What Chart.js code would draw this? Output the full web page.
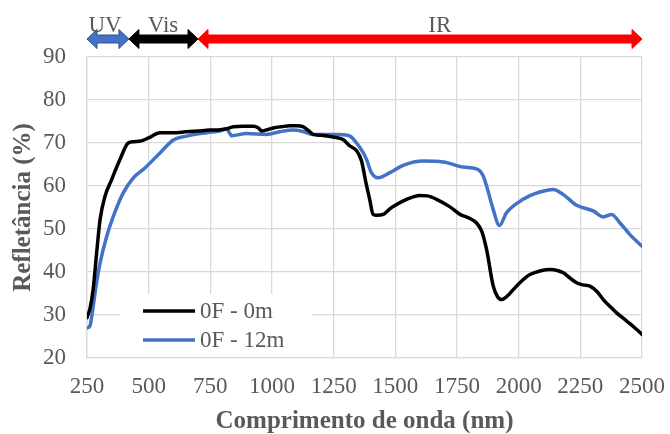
<!DOCTYPE html>
<html>
<head>
<meta charset="utf-8">
<script src="https://cdn.jsdelivr.net/npm/chart.js@4"></script>
<style>
  html, body { margin: 0; padding: 0; background: #ffffff; }
  #wrap { width: 670px; height: 434px; }
</style>
</head>
<body>
<div id="wrap"><canvas id="chart" width="670" height="434"></canvas></div>
<script>
// Reflectance spectra, wavelength in nm, reflectance in %
const seriesNames = ['0F - 0m', '0F - 12m'];

const wl0m = [250, 262, 275, 290, 303, 323, 350, 384, 417, 440, 470, 500, 546, 600, 650, 700,
  748, 790, 816, 843, 880, 924, 945, 958, 975, 1005, 1040, 1072, 1100, 1125, 1150, 1167, 1200,
  1248, 1288, 1316, 1343, 1363, 1380, 1396, 1410, 1425, 1451, 1480, 1505, 1550, 1599, 1630, 1667,
  1720, 1762, 1800, 1829, 1850, 1870, 1897, 1915, 1931, 1950, 1978, 2010, 2046, 2090, 2127, 2160,
  2181, 2210, 2235, 2260, 2289, 2320, 2343, 2370, 2397, 2425, 2451, 2475, 2500];
const refl0m = [29.4, 31.5, 36, 45, 52.2, 57.6, 61.5, 66.2, 70, 70.3, 70.5, 71.2, 72.4, 72.4, 72.6, 72.8,
  73.0, 73.1, 73.3, 73.8, 73.9, 73.9, 73.5, 72.8, 73.0, 73.5, 73.8, 74.0, 74.0, 73.8, 72.8, 72.0, 71.8,
  71.4, 70.8, 69.3, 68.2, 65.8, 61, 56.9, 53.4, 53.2, 53.4, 54.8, 55.7, 57, 57.8, 57.7, 56.9,
  55.2, 53.4, 52.5, 51.4, 49.5, 45.2, 36.7, 34.2, 33.6, 34.2, 35.9, 37.8, 39.4, 40.3, 40.6, 40.3,
  39.8, 38.5, 37.5, 37.0, 36.7, 35.3, 33.6, 32, 30.5, 29.2, 28, 26.8, 25.5];

const wl12m = [250, 262, 275, 290, 303, 330, 357, 397, 438, 485, 546, 600, 654, 735, 789, 816, 826,
  836, 897, 978, 1030, 1086, 1130, 1167, 1220, 1275, 1316, 1343, 1370, 1383, 1403, 1430, 1478, 1532,
  1613, 1694, 1775, 1836, 1855, 1870, 1897, 1922, 1951, 2018, 2086, 2140, 2181, 2235, 2302, 2343,
  2377, 2411, 2451, 2500];
const refl12m = [27.0, 27.5, 32, 38, 42.1, 48.3, 53, 58.4, 61.9, 64.2, 67.7, 70.7, 71.6, 72.4, 72.8, 73.3, 72.5,
  71.7, 72.2, 72.0, 72.6, 73.0, 72.6, 72.0, 72.0, 72.0, 71.6, 70.0, 67.7, 66.2, 63.1, 61.9, 63.1, 64.8,
  65.8, 65.6, 64.4, 63.8, 62.5, 60, 54.5, 50.8, 53.8, 56.9, 58.6, 59.2, 58, 55.5, 54.2, 52.8,
  53.4, 51.4, 48.7, 46];

// Spectral regions shown above the plot
const regionNames = ['UV', 'Vis', 'IR'];
const regionBounds = [250, 420, 700, 2500];
const regionLabelAt = [323, 558, 1680];
const regionFill = ['#4472C4', '#000000', '#FF0000'];
const regionEdge = ['#2F528F', '#000000', '#FF0000'];

const xTickValues = [250, 500, 750, 1000, 1250, 1500, 1750, 2000, 2250, 2500];

const TEXT = '#595959';
const GRID = '#d9d9d9';
const SERIF = '"Liberation Serif", "Times New Roman", serif';

const toPoints = (xs, ys) => xs.map((x, i) => ({ x: x, y: ys[i] }));

function doubleArrow(ctx, x1, x2, y, fill, edge) {
  const shaft = 8, head = 19, hl = 10;
  ctx.beginPath();
  ctx.moveTo(x1, y);
  ctx.lineTo(x1 + hl, y - head / 2);
  ctx.lineTo(x1 + hl, y - shaft / 2);
  ctx.lineTo(x2 - hl, y - shaft / 2);
  ctx.lineTo(x2 - hl, y - head / 2);
  ctx.lineTo(x2, y);
  ctx.lineTo(x2 - hl, y + head / 2);
  ctx.lineTo(x2 - hl, y + shaft / 2);
  ctx.lineTo(x1 + hl, y + shaft / 2);
  ctx.lineTo(x1 + hl, y + head / 2);
  ctx.closePath();
  ctx.fillStyle = fill;
  ctx.fill();
  ctx.lineWidth = 1;
  ctx.strokeStyle = edge;
  ctx.stroke();
}

const regionsPlugin = {
  id: 'regions',
  afterDraw(chart) {
    const ctx = chart.ctx;
    const xs = chart.scales.x;
    ctx.save();
    for (let i = 0; i < regionNames.length; i++) {
      const a = xs.getPixelForValue(regionBounds[i]);
      const b = xs.getPixelForValue(regionBounds[i + 1]);
      doubleArrow(ctx, a, b, 39, regionFill[i], regionEdge[i]);
    }
    ctx.font = '23px ' + SERIF;
    ctx.fillStyle = TEXT;
    ctx.textAlign = 'center';
    ctx.textBaseline = 'alphabetic';
    for (let i = 0; i < regionNames.length; i++) {
      ctx.fillText(regionNames[i], xs.getPixelForValue(regionLabelAt[i]), 31.5);
    }
    ctx.restore();
  }
};

const legendBoxPlugin = {
  id: 'legendBox',
  afterDatasetsDraw(chart) {
    const ctx = chart.ctx;
    const area = chart.chartArea;
    ctx.save();
    const bx = area.left + 33, by = area.bottom - 64, bw = 192, bh = 63;
    ctx.fillStyle = '#ffffff';
    ctx.fillRect(bx, by, bw, bh);
    ctx.font = '23px ' + SERIF;
    ctx.textAlign = 'left';
    ctx.textBaseline = 'middle';
    chart.data.datasets.forEach((ds, i) => {
      const y = by + 17 + i * 29;
      ctx.beginPath();
      ctx.moveTo(bx + 23, y);
      ctx.lineTo(bx + 75, y);
      ctx.lineWidth = 3.5;
      ctx.strokeStyle = ds.borderColor;
      ctx.stroke();
      ctx.fillStyle = TEXT;
      ctx.fillText(ds.label, bx + 80, y + 1);
    });
    ctx.restore();
  }
};

new Chart(document.getElementById('chart'), {
  type: 'line',
  data: {
    datasets: [
      { label: seriesNames[0], data: toPoints(wl0m, refl0m), borderColor: '#000000' },
      { label: seriesNames[1], data: toPoints(wl12m, refl12m), borderColor: '#4472C4' }
    ]
  },
  options: {
    responsive: false,
    animation: false,
    devicePixelRatio: 1,
    layout: { padding: { left: 0, right: 28, top: 57, bottom: 0 } },
    elements: {
      point: { radius: 0 },
      line: { borderWidth: 3.5, cubicInterpolationMode: 'monotone', borderCapStyle: 'round', borderJoinStyle: 'round' }
    },
    plugins: { legend: { display: false }, tooltip: { enabled: false } },
    scales: {
      x: {
        type: 'linear',
        min: 250, max: 2500,
        afterBuildTicks(scale) { scale.ticks = xTickValues.map(v => ({ value: v })); },
        afterFit(scale) { scale.height = 76; scale.paddingLeft = 0; scale.paddingRight = 0; },
        grid: { color: GRID, lineWidth: 1.3, drawTicks: false },
        border: { color: GRID, width: 1.3 },
        ticks: {
          color: TEXT, font: { family: SERIF, size: 23 }, padding: 15, maxRotation: 0, autoSkip: false,
          callback: v => String(v)
        },
        title: {
          display: true, text: 'Comprimento de onda (nm)', color: TEXT,
          font: { family: SERIF, size: 25, weight: 'bold', lineHeight: 1.0 },
          padding: { top: 0, bottom: 0 }
        }
      },
      y: {
        min: 20, max: 90,
        ticks: { stepSize: 10, color: TEXT, font: { family: SERIF, size: 23 }, padding: 21 },
        afterFit(scale) { scale.width = 87; scale.paddingTop = 0; scale.paddingBottom = 0; },
        grid: { color: GRID, lineWidth: 1.3, drawTicks: false },
        border: { color: GRID, width: 1.3 },
        title: {
          display: true, text: 'Refletância (%)', color: TEXT,
          font: { family: SERIF, size: 25, weight: 'bold', lineHeight: 1.0 },
          padding: { top: 11, bottom: 0 }
        }
      }
    }
  },
  plugins: [legendBoxPlugin, regionsPlugin]
});
</script>
</body>
</html>
